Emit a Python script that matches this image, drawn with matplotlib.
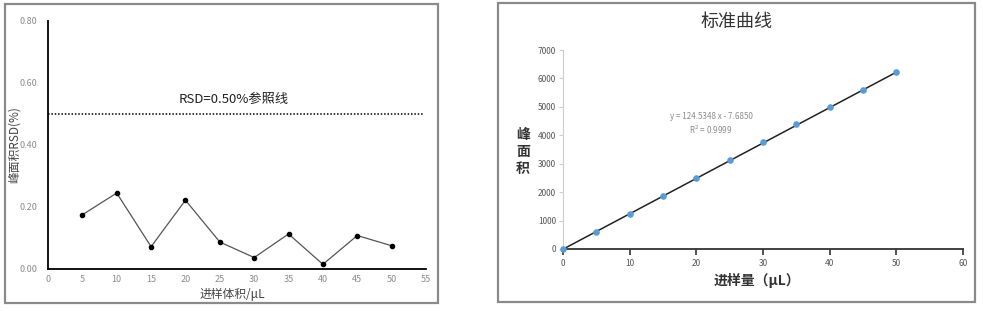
import matplotlib.pyplot as plt
from matplotlib.patches import Rectangle
import numpy as np

plt.rcParams['font.family'] = ['Noto Sans CJK SC', 'DejaVu Sans']

# left panel data: RSD of peak area vs injection volume
vol = [5, 10, 15, 20, 25, 30, 35, 40, 45, 50]
rsd = [0.175, 0.245, 0.072, 0.222, 0.087, 0.037, 0.113, 0.015, 0.108, 0.075]
ref_rsd = 0.50

# right panel data: standard curve
cal_x = [0, 5, 10, 15, 20, 25, 30, 35, 40, 45, 50]
cal_y = [0, 595, 1240, 1870, 2500, 3130, 3760, 4380, 4990, 5590, 6210]
slope, intercept = 124.5348, -7.6850

W, H = 983, 311
fig = plt.figure(figsize=(W / 100, H / 100), dpi=100)

# panel frames
fig.patches.append(Rectangle((5 / W, 1 - 303 / H), 433 / W, 299 / H, transform=fig.transFigure,
                             fill=False, edgecolor='#8a8a8a', lw=1.6))
fig.patches.append(Rectangle((498 / W, 1 - 302 / H), 477 / W, 299 / H, transform=fig.transFigure,
                             fill=False, edgecolor='#8a8a8a', lw=1.6))

# ---- left chart
ax1 = fig.add_axes([48 / W, 1 - 269 / H, 378 / W, 248 / H])
ax1.plot(vol, rsd, color='#555555', lw=0.9, marker='o', ms=3, mfc='black', mec='black')
ax1.axhline(ref_rsd, xmin=0, xmax=0.995, color='black', ls=(0, (1, 1.2)), lw=1.1)
ax1.text(27, 0.525, 'RSD=0.50%参照线', ha='center', va='bottom', fontsize=9.5, color='#222222')
ax1.set_xlim(0, 55)
ax1.set_ylim(0, 0.8)
ax1.set_xticks(np.arange(0, 56, 5))
ax1.set_yticks([0, 0.2, 0.4, 0.6, 0.8])
ax1.set_yticklabels(['0.00', '0.20', '0.40', '0.60', '0.80'])
ax1.tick_params(axis='y', length=0, labelsize=6.5, labelcolor='#8c8c8c', pad=8)
ax1.tick_params(axis='x', length=0, labelsize=6.5, labelcolor='#8c8c8c', pad=4)
for s in ['top', 'right']:
    ax1.spines[s].set_visible(False)
for s in ['left', 'bottom']:
    ax1.spines[s].set_linewidth(1.3)
fig.text(232 / W, 1 - 294 / H, '进样体积/μL', ha='center', va='center', fontsize=8.5, color='#444444')
fig.text(14 / W, 1 - 145 / H, '峰面积RSD(%)', ha='center', va='center', rotation=90,
         fontsize=8.5, color='#444444')

# ---- right chart
ax2 = fig.add_axes([563 / W, 1 - 249 / H, 400 / W, 199 / H])
fit_x = np.array([cal_x[0], cal_x[-1]])
ax2.plot(fit_x, slope * fit_x + intercept, color='#222222', lw=1.1, zorder=2)
ax2.scatter(cal_x, cal_y, s=14, color='#5b9bd5', zorder=3, clip_on=False)
ax2.set_xlim(0, 60)
ax2.set_ylim(0, 7000)
ax2.set_xticks(np.arange(0, 61, 10))
ax2.set_yticks(np.arange(0, 7001, 1000))
for s in ['top', 'right']:
    ax2.spines[s].set_visible(False)
ax2.spines['left'].set_color('#cccccc')
ax2.spines['bottom'].set_color('#333333')
ax2.spines['bottom'].set_linewidth(1.3)
ax2.tick_params(axis='x', length=4, width=1.2, color='#333333', labelsize=6, labelcolor='#555555', pad=3)
ax2.tick_params(axis='y', length=3, color='#cccccc', labelsize=6, labelcolor='#555555', pad=2)
ax2.text(22.2, 4400, 'y = 124.5348 x - 7.6850\nR$^2$ = 0.9999', ha='center', va='center',
         fontsize=5.8, color='#8c8c8c', linespacing=1.3)
fig.text(737 / W, 1 - 22 / H, '标准曲线', ha='center', va='center', fontsize=13, color='#333333')
fig.text(523 / W, 1 - 152 / H, '峰\n面\n积', ha='center', va='center', fontsize=10,
         fontweight='bold', color='#333333', linespacing=1.25)
fig.text(757 / W, 1 - 280 / H, '进样量（μL）', ha='center', va='center', fontsize=10,
         fontweight='bold', color='#333333')

fig.savefig('out.png', dpi=100)
